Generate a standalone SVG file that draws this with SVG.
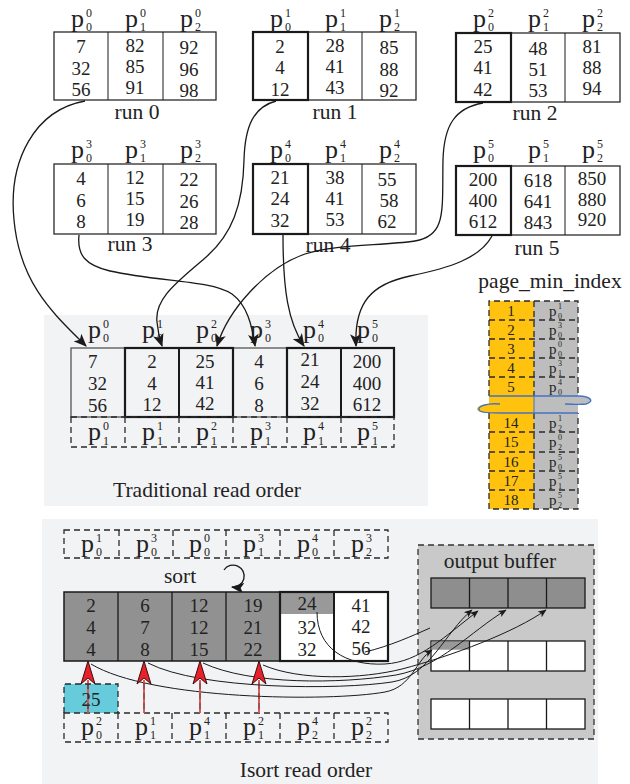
<svg xmlns="http://www.w3.org/2000/svg" width="630" height="784" viewBox="0 0 630 784">
<defs>
<style>
text{font-family:"Liberation Serif","Times New Roman",serif;fill:#222}
.n{font-size:19px;text-anchor:middle}
.lbl{font-size:21.5px;text-anchor:middle}
.p{font-size:26px}
.s{font-size:12px}
.pm{font-size:15px}
.sm{font-size:8px}
.cell{fill:#fff;stroke:#2a2a2a;stroke-width:1.3}
.thick{fill:none;stroke:#1a1a1a;stroke-width:2.2}
.dash{fill:none;stroke:#2a2a2a;stroke-width:1.3;stroke-dasharray:6 4}
.conn{fill:none;stroke:#1a1a1a;stroke-width:1.3}
.thin{fill:none;stroke:#1a1a1a;stroke-width:1}
.wave{fill:none;stroke:#4472C4;stroke-width:1.4}
</style>
<marker id="ah" viewBox="0 0 12 10" refX="11" refY="5" markerWidth="13" markerHeight="11" markerUnits="userSpaceOnUse" orient="auto"><path d="M0,0 L12,5 L0,10 L3,5 Z" fill="#1a1a1a"/></marker>
<marker id="ahs" viewBox="0 0 12 10" refX="11" refY="5" markerWidth="9" markerHeight="7" markerUnits="userSpaceOnUse" orient="auto"><path d="M0,0 L12,5 L0,10 L3,5 Z" fill="#1a1a1a"/></marker>
</defs>

<!-- panel backgrounds -->
<rect x="44" y="315" width="384" height="191" fill="#f2f3f5"/>
<rect x="42" y="519" width="556" height="265" fill="#f2f3f5"/>

<!-- run 0 -->
<g id="run0">
<rect class="cell" x="54" y="32" width="162" height="68"/>
<line class="thin" x1="108" y1="32" x2="108" y2="100"/><line class="thin" x1="163" y1="32" x2="163" y2="100"/>
<text class="p" x="71" y="27">p</text><text class="s" x="86" y="17">0</text><text class="s" x="86" y="31">0</text>
<text class="p" x="125" y="27">p</text><text class="s" x="140" y="17">0</text><text class="s" x="140" y="31">1</text>
<text class="p" x="180" y="27">p</text><text class="s" x="195" y="17">0</text><text class="s" x="195" y="31">2</text>
<text class="n" x="81" y="53">7</text><text class="n" x="81" y="75">32</text><text class="n" x="81" y="96">56</text>
<text class="n" x="135" y="52">82</text><text class="n" x="135" y="73">85</text><text class="n" x="135" y="94">91</text>
<text class="n" x="189" y="54">92</text><text class="n" x="189" y="76">96</text><text class="n" x="189" y="97">98</text>
<text class="lbl" x="137" y="119">run 0</text>
</g>

<!-- run 1 -->
<g id="run1">
<rect class="cell" x="253" y="32" width="163" height="68"/>
<line class="thin" x1="362" y1="32" x2="362" y2="100"/>
<rect class="thick" x="253" y="32" width="55" height="68"/>
<text class="p" x="270" y="27">p</text><text class="s" x="285" y="17">1</text><text class="s" x="285" y="31">0</text>
<text class="p" x="325" y="27">p</text><text class="s" x="340" y="17">1</text><text class="s" x="340" y="31">1</text>
<text class="p" x="379" y="27">p</text><text class="s" x="394" y="17">1</text><text class="s" x="394" y="31">2</text>
<text class="n" x="280" y="53">2</text><text class="n" x="280" y="74">4</text><text class="n" x="280" y="96">12</text>
<text class="n" x="335" y="52">28</text><text class="n" x="335" y="73">41</text><text class="n" x="335" y="94">43</text>
<text class="n" x="389" y="54">85</text><text class="n" x="389" y="76">88</text><text class="n" x="389" y="97">92</text>
<text class="lbl" x="335" y="119">run 1</text>
</g>

<!-- run 2 -->
<g id="run2">
<rect class="cell" x="456" y="33" width="164" height="69"/>
<line class="thin" x1="565" y1="33" x2="565" y2="102"/>
<rect class="thick" x="456" y="33" width="55" height="69"/>
<text class="p" x="473" y="27">p</text><text class="s" x="488" y="17">2</text><text class="s" x="488" y="31">0</text>
<text class="p" x="528" y="27">p</text><text class="s" x="543" y="17">2</text><text class="s" x="543" y="31">1</text>
<text class="p" x="582" y="27">p</text><text class="s" x="597" y="17">2</text><text class="s" x="597" y="31">2</text>
<text class="n" x="483" y="53">25</text><text class="n" x="483" y="74">41</text><text class="n" x="483" y="96">42</text>
<text class="n" x="538" y="55">48</text><text class="n" x="538" y="76">51</text><text class="n" x="538" y="97">53</text>
<text class="n" x="592" y="53">81</text><text class="n" x="592" y="74">88</text><text class="n" x="592" y="95">94</text>
<text class="lbl" x="535" y="120">run 2</text>
</g>

<!-- run 3 -->
<g id="run3">
<rect class="cell" x="54" y="164" width="162" height="70"/>
<line class="thin" x1="108" y1="164" x2="108" y2="234"/><line class="thin" x1="163" y1="164" x2="163" y2="234"/>
<text class="p" x="71" y="158">p</text><text class="s" x="86" y="148">3</text><text class="s" x="86" y="162">0</text>
<text class="p" x="125" y="158">p</text><text class="s" x="140" y="148">3</text><text class="s" x="140" y="162">1</text>
<text class="p" x="180" y="158">p</text><text class="s" x="195" y="148">3</text><text class="s" x="195" y="162">2</text>
<text class="n" x="81" y="185">4</text><text class="n" x="81" y="207">6</text><text class="n" x="81" y="228">8</text>
<text class="n" x="135" y="184">12</text><text class="n" x="135" y="205">15</text><text class="n" x="135" y="226">19</text>
<text class="n" x="189" y="186">22</text><text class="n" x="189" y="208">26</text><text class="n" x="189" y="229">28</text>
<text class="lbl" x="130" y="251">run 3</text>
</g>

<!-- run 4 -->
<g id="run4">
<rect class="cell" x="253" y="164" width="163" height="70"/>
<line class="thin" x1="362" y1="164" x2="362" y2="234"/>
<rect class="thick" x="253" y="164" width="55" height="70"/>
<text class="p" x="270" y="158">p</text><text class="s" x="285" y="148">4</text><text class="s" x="285" y="162">0</text>
<text class="p" x="325" y="158">p</text><text class="s" x="340" y="148">4</text><text class="s" x="340" y="162">1</text>
<text class="p" x="379" y="158">p</text><text class="s" x="394" y="148">4</text><text class="s" x="394" y="162">2</text>
<text class="n" x="280" y="184">21</text><text class="n" x="280" y="205">24</text><text class="n" x="280" y="227">32</text>
<text class="n" x="335" y="184">38</text><text class="n" x="335" y="205">41</text><text class="n" x="335" y="226">53</text>
<text class="n" x="387" y="186">55</text><text class="n" x="389" y="207">58</text><text class="n" x="387" y="228">62</text>
<text class="lbl" x="328" y="252">run 4</text>
</g>

<!-- run 5 -->
<g id="run5">
<rect class="cell" x="456" y="166" width="164" height="69"/>
<line class="thin" x1="565" y1="166" x2="565" y2="235"/>
<rect class="thick" x="456" y="166" width="55" height="69"/>
<text class="p" x="473" y="158">p</text><text class="s" x="488" y="148">5</text><text class="s" x="488" y="162">0</text>
<text class="p" x="528" y="158">p</text><text class="s" x="543" y="148">5</text><text class="s" x="543" y="162">1</text>
<text class="p" x="582" y="158">p</text><text class="s" x="597" y="148">5</text><text class="s" x="597" y="162">2</text>
<text class="n" x="483" y="186">200</text><text class="n" x="483" y="207">400</text><text class="n" x="483" y="228">612</text>
<text class="n" x="538" y="187">618</text><text class="n" x="538" y="208">641</text><text class="n" x="538" y="229">843</text>
<text class="n" x="592" y="185">850</text><text class="n" x="592" y="206">880</text><text class="n" x="592" y="226">920</text>
<text class="lbl" x="537" y="255">run 5</text>
</g>

<!-- traditional read order: first pages of every run, then next pages -->
<g id="traditional">
<rect x="71" y="348" width="323" height="69" fill="#f2f3f5" stroke="#555" stroke-width="1.3"/>
<line x1="233" y1="348" x2="233" y2="417" stroke="#555" stroke-width="1.3"/>
<rect class="thick" x="125" y="348" width="108" height="69"/>
<line x1="179" y1="348" x2="179" y2="417" stroke="#1a1a1a" stroke-width="2"/>
<rect class="thick" x="287" y="348" width="107" height="69"/>
<line x1="341" y1="348" x2="341" y2="417" stroke="#1a1a1a" stroke-width="2"/>
<text class="p" x="88" y="338">p</text><text class="s" x="103" y="328">0</text><text class="s" x="103" y="342">0</text>
<text class="p" x="142" y="338">p</text><text class="s" x="157" y="328">1</text><text class="s" x="157" y="342">0</text>
<text class="p" x="196" y="338">p</text><text class="s" x="211" y="328">2</text><text class="s" x="211" y="342">0</text>
<text class="p" x="250" y="338">p</text><text class="s" x="265" y="328">3</text><text class="s" x="265" y="342">0</text>
<text class="p" x="303" y="338">p</text><text class="s" x="318" y="328">4</text><text class="s" x="318" y="342">0</text>
<text class="p" x="357" y="338">p</text><text class="s" x="372" y="328">5</text><text class="s" x="372" y="342">0</text>
<text x="88" y="368" style="font-size:19px">7</text><text x="88" y="390" style="font-size:19px">32</text><text x="88" y="412" style="font-size:19px">56</text>
<text class="n" x="152" y="368">2</text><text class="n" x="152" y="390">4</text><text class="n" x="152" y="411">12</text>
<text class="n" x="205" y="368">25</text><text class="n" x="205" y="389">41</text><text class="n" x="205" y="410">42</text>
<text class="n" x="259" y="368">4</text><text class="n" x="259" y="390">6</text><text class="n" x="259" y="412">8</text>
<text class="n" x="310" y="366">21</text><text class="n" x="310" y="388">24</text><text class="n" x="310" y="410">32</text>
<text class="n" x="367" y="368">200</text><text class="n" x="367" y="390">400</text><text class="n" x="367" y="411">612</text>
<rect class="dash" x="71" y="417" width="323" height="30"/>
<path class="dash" d="M125,417 V447 M179,417 V447 M233,417 V447 M287,417 V447 M341,417 V447"/>
<text class="p" x="88" y="440">p</text><text class="s" x="103" y="430">0</text><text class="s" x="103" y="445">1</text>
<text class="p" x="142" y="440">p</text><text class="s" x="157" y="430">1</text><text class="s" x="157" y="445">1</text>
<text class="p" x="196" y="440">p</text><text class="s" x="211" y="430">2</text><text class="s" x="211" y="445">1</text>
<text class="p" x="250" y="440">p</text><text class="s" x="265" y="430">3</text><text class="s" x="265" y="445">1</text>
<text class="p" x="303" y="440">p</text><text class="s" x="318" y="430">4</text><text class="s" x="318" y="445">1</text>
<text class="p" x="357" y="440">p</text><text class="s" x="372" y="430">5</text><text class="s" x="372" y="445">1</text>
<text class="lbl" x="207" y="497">Traditional read order</text>
</g>

<!-- connectors from each run's first page into the traditional order -->
<g id="connectors-top">
<path class="conn" marker-end="url(#ah)" d="M 85,101 C 35,110 8,160 14,220 C 20,285 55,315 86,346"/>
<path class="conn" marker-end="url(#ah)" d="M 276,101 C 254,107 245,125 244,160 C 243,205 232,235 205,258 C 180,280 154,298 157,322 C 158,333 160,340 162,346"/>
<path class="conn" marker-end="url(#ah)" d="M 483,103 C 455,108 444,125 443,160 C 442,210 447,236 415,241 C 380,246 335,244 305,254 C 265,268 228,310 217,346"/>
<path class="conn" marker-end="url(#ah)" d="M 79,235 C 77,255 85,265 110,271 C 160,282 210,280 232,294 C 247,305 252,325 255,346"/>
<path class="conn" marker-end="url(#ah)" d="M 283,235 C 283,290 288,322 304,346"/>
<path class="conn" marker-end="url(#ah)" d="M 492,236 C 480,258 450,268 410,276 C 372,284 354,302 356,346"/>
</g>

<!-- page_min_index table -->
<g id="page-min-index">
<text class="lbl" x="550" y="288">page_min_index</text>
<rect x="489" y="301" width="45" height="208" fill="#FFC20E"/>
<rect x="534" y="301" width="44" height="208" fill="#BDBDBD"/>
<path class="dash" d="M489,396 V301 H578 V396 M489,320 H578 M489,339 H578 M489,358 H578 M489,377 H578 M534,301 V396"/>
<path class="dash" d="M489,413 V509 H578 V413 M489,432 H578 M489,452 H578 M489,471 H578 M489,490 H578 M534,413 V509"/>
<text class="pm" x="511" y="316" text-anchor="middle">1</text>
<text class="pm" x="511" y="335" text-anchor="middle">2</text>
<text class="pm" x="511" y="354" text-anchor="middle">3</text>
<text class="pm" x="511" y="373" text-anchor="middle">4</text>
<text class="pm" x="511" y="392" text-anchor="middle">5</text>
<text class="pm" x="511" y="428" text-anchor="middle">14</text>
<text class="pm" x="511" y="447" text-anchor="middle">15</text>
<text class="pm" x="511" y="467" text-anchor="middle">16</text>
<text class="pm" x="511" y="486" text-anchor="middle">17</text>
<text class="pm" x="511" y="505" text-anchor="middle">18</text>
<text class="pm" x="549" y="316">p</text><text class="sm" x="558" y="309">1</text><text class="sm" x="558" y="319">0</text>
<text class="pm" x="549" y="335">p</text><text class="sm" x="558" y="328">3</text><text class="sm" x="558" y="338">0</text>
<text class="pm" x="549" y="354">p</text><text class="sm" x="558" y="347">0</text><text class="sm" x="558" y="357">0</text>
<text class="pm" x="549" y="373">p</text><text class="sm" x="558" y="366">3</text><text class="sm" x="558" y="376">1</text>
<text class="pm" x="549" y="392">p</text><text class="sm" x="558" y="385">4</text><text class="sm" x="558" y="395">0</text>
<text class="pm" x="549" y="428">p</text><text class="sm" x="558" y="421">1</text><text class="sm" x="558" y="431">2</text>
<text class="pm" x="549" y="447">p</text><text class="sm" x="558" y="440">0</text><text class="sm" x="558" y="450">2</text>
<text class="pm" x="549" y="467">p</text><text class="sm" x="558" y="460">5</text><text class="sm" x="558" y="470">0</text>
<text class="pm" x="549" y="486">p</text><text class="sm" x="558" y="479">5</text><text class="sm" x="558" y="489">1</text>
<text class="pm" x="549" y="505">p</text><text class="sm" x="558" y="498">5</text><text class="sm" x="558" y="508">2</text>
<!-- break marks across the table -->
<path d="M 578,396 C 592,396 594,402 586,404 C 582,405 578,405 578,405 Z" fill="#BDBDBD"/>
<path d="M 489,404 C 476,405 474,410 481,412 C 484,413 489,413 489,413 Z" fill="#FFC20E"/>
<path class="wave" d="M 489,396 L 578,396 C 592,396 594,402 586,404 C 580,405 572,404 565,404"/>
<path class="wave" d="M 500,404 C 488,403 475,406 480,411 C 483,413 492,413 502,413 L 578,413"/>
<line x1="534" y1="396" x2="534" y2="413" stroke="#4472C4" stroke-width="1"/>
</g>

<!-- isort read order panel -->
<g id="isort">
<rect class="dash" x="64" y="530" width="324" height="28"/>
<path class="dash" d="M119,530 V558 M173,530 V558 M226,530 V558 M280,530 V558 M334,530 V558"/>
<text class="p" x="81" y="552">p</text><text class="s" x="96" y="542">1</text><text class="s" x="96" y="556">0</text>
<text class="p" x="136" y="552">p</text><text class="s" x="151" y="542">3</text><text class="s" x="151" y="556">0</text>
<text class="p" x="189" y="552">p</text><text class="s" x="204" y="542">0</text><text class="s" x="204" y="556">0</text>
<text class="p" x="243" y="552">p</text><text class="s" x="258" y="542">3</text><text class="s" x="258" y="556">1</text>
<text class="p" x="297" y="552">p</text><text class="s" x="312" y="542">4</text><text class="s" x="312" y="556">0</text>
<text class="p" x="351" y="552">p</text><text class="s" x="366" y="542">3</text><text class="s" x="366" y="556">2</text>
<text class="lbl" x="180" y="583">sort</text>
<path class="conn" marker-end="url(#ah)" d="M 224,570 A 11,11 0 1 1 232,587"/>
</g>

<g id="merge-block">
<rect x="64" y="592" width="216" height="69" fill="#919191"/>
<rect x="280" y="592" width="54" height="22" fill="#999"/>
<rect x="280" y="614" width="54" height="47" fill="#fff"/>
<rect x="334" y="592" width="54" height="69" fill="#fff"/>
<rect x="64" y="592" width="324" height="69" fill="none" stroke="#1a1a1a" stroke-width="1.5"/>
<path d="M118,592 V661 M172,592 V661 M226,592 V661" stroke="#1a1a1a" stroke-width="1.3"/>
<rect class="thick" x="280" y="592" width="108" height="69"/>
<line x1="334" y1="592" x2="334" y2="661" stroke="#1a1a1a" stroke-width="2"/>
<text class="n" x="91" y="612">2</text><text class="n" x="91" y="634">4</text><text class="n" x="91" y="656">4</text>
<text class="n" x="145" y="612">6</text><text class="n" x="145" y="634">7</text><text class="n" x="145" y="656">8</text>
<text class="n" x="199" y="612">12</text><text class="n" x="199" y="634">12</text><text class="n" x="199" y="656">15</text>
<text class="n" x="253" y="612">19</text><text class="n" x="253" y="634">21</text><text class="n" x="253" y="656">22</text>
<text class="n" x="307" y="610">24</text><text class="n" x="307" y="634">32</text><text class="n" x="307" y="656">32</text>
<text class="n" x="361" y="612">41</text><text class="n" x="361" y="633">42</text><text class="n" x="361" y="655">56</text>
</g>

<g id="next-pages">
<rect x="64" y="684" width="54" height="29" fill="#66CBDB"/>
<path class="dash" d="M64,713 V684 H118 V713"/>
<text class="n" x="91" y="706">25</text>
<rect class="dash" x="64" y="713" width="324" height="29"/>
<path class="dash" d="M118,713 V742 M172,713 V742 M226,713 V742 M280,713 V742 M334,713 V742"/>
<text class="p" x="81" y="735">p</text><text class="s" x="96" y="725">2</text><text class="s" x="96" y="739">0</text>
<text class="p" x="135" y="735">p</text><text class="s" x="150" y="725">1</text><text class="s" x="150" y="739">1</text>
<text class="p" x="189" y="735">p</text><text class="s" x="204" y="725">4</text><text class="s" x="204" y="739">1</text>
<text class="p" x="243" y="735">p</text><text class="s" x="258" y="725">2</text><text class="s" x="258" y="739">1</text>
<text class="p" x="297" y="735">p</text><text class="s" x="312" y="725">4</text><text class="s" x="312" y="739">2</text>
<text class="p" x="351" y="735">p</text><text class="s" x="366" y="725">2</text><text class="s" x="366" y="739">2</text>
<text class="lbl" x="306" y="777">Isort read order</text>
</g>

<g id="output-buffer">
<rect x="418" y="545" width="176" height="194" fill="#C9C9C9" stroke="#333" stroke-width="1.3" stroke-dasharray="6 4"/>
<text class="lbl" x="500" y="568">output buffer</text>
<rect x="431" y="578" width="154" height="30" fill="#8E8E8E" stroke="#1a1a1a" stroke-width="1.3"/>
<path d="M469.5,578 V608 M508,578 V608 M546.5,578 V608" stroke="#1a1a1a" stroke-width="1.3"/>
<rect x="431" y="641" width="154" height="30" fill="#fff" stroke="#1a1a1a" stroke-width="1.3"/>
<rect x="431.7" y="641.7" width="37.8" height="8" fill="#999"/>
<path d="M469.5,641 V671 M508,641 V671 M546.5,641 V671" stroke="#1a1a1a" stroke-width="1.3"/>
<rect x="431" y="699" width="154" height="30" fill="#fff" stroke="#1a1a1a" stroke-width="1.3"/>
<path d="M469.5,699 V729 M508,699 V729 M546.5,699 V729" stroke="#1a1a1a" stroke-width="1.3"/>
</g>

<!-- read pointers and merge outputs -->
<g id="connectors-bottom">
<path class="thin" marker-end="url(#ahs)" d="M 91,664 C 150,700 330,702 385,692 C 412,687 416,660 432,650"/>
<path class="thin" marker-end="url(#ahs)" d="M 148,663 C 200,690 340,690 392,682 C 430,676 445,632 472,610"/>
<path class="thin" marker-end="url(#ahs)" d="M 203,663 C 250,685 340,684 396,675 C 440,667 470,632 506,610"/>
<path class="thin" marker-end="url(#ahs)" d="M 263,665 C 300,681 362,679 402,669 C 452,656 515,632 546,610"/>
<path class="thin" marker-end="url(#ahs)" d="M 317,612 C 317,648 345,666 385,664 C 420,662 445,636 478,611"/>
<path class="thin" d="M 365,652 C 390,646 412,636 430,628"/>
<g stroke="#7a1e1e" stroke-width="1.5">
<line x1="88" y1="713" x2="88" y2="680"/>
<line x1="144" y1="713" x2="144" y2="680"/>
<line x1="200" y1="713" x2="200" y2="680"/>
<line x1="259" y1="713" x2="259" y2="680"/>
</g>
<g stroke="#ff5a5a" stroke-width="1.5" stroke-dasharray="4 6">
<line x1="88" y1="713" x2="88" y2="680"/>
<line x1="144" y1="713" x2="144" y2="680"/>
<line x1="200" y1="713" x2="200" y2="680"/>
<line x1="259" y1="713" x2="259" y2="680"/>
</g>
<g fill="#E8202A" stroke="#3a1010" stroke-width="1">
<polygon points="88,661 95,684 88,678 81,684"/>
<polygon points="144,661 151,684 144,678 137,684"/>
<polygon points="200,661 207,684 200,678 193,684"/>
<polygon points="259,661 266,684 259,678 252,684"/>
</g>
</g>
</svg>
